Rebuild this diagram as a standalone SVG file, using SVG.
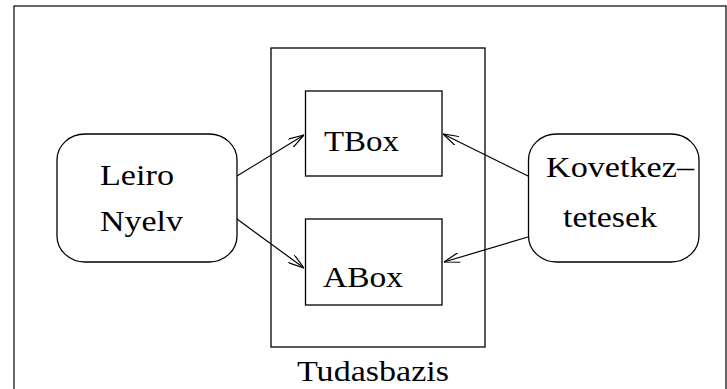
<svg xmlns="http://www.w3.org/2000/svg" width="727" height="389" viewBox="0 0 727 389">
<style>
.b{fill:none;stroke:#000;stroke-width:1.3}
.t{font-family:"Liberation Serif","Times New Roman",serif;font-size:29px;fill:#000}
.c{fill:none;stroke:#000;stroke-width:1.2}
</style>
<defs>
<marker id="ah" viewBox="0 0 16 10" refX="16" refY="5" markerWidth="16" markerHeight="10" markerUnits="userSpaceOnUse" orient="auto">
<path d="M0,0 L16,5 L0,10" fill="none" stroke="#000" stroke-width="1.2"/>
</marker>
</defs>
<rect x="0" y="0" width="727" height="389" fill="#fff"/>
<rect x="14" y="6" width="712" height="400" fill="none" stroke="#000" stroke-width="1.2"/>
<g id="tudasbazis">
<rect class="b" x="271" y="48" width="214" height="299"/>
<text class="t" x="297" y="381" textLength="152" lengthAdjust="spacingAndGlyphs">Tudasbazis</text>
</g>
<g id="tbox">
<rect class="b" x="305.5" y="91" width="136.5" height="85"/>
<text class="t" x="324" y="151" textLength="75" lengthAdjust="spacingAndGlyphs">TBox</text>
</g>
<g id="abox">
<rect class="b" x="305.5" y="219" width="136.5" height="86"/>
<text class="t" x="323" y="287" textLength="80" lengthAdjust="spacingAndGlyphs">ABox</text>
</g>
<g id="leiro">
<rect class="b" x="57" y="134" width="180" height="128" rx="28" ry="26"/>
<text class="t" x="100" y="185" textLength="74" lengthAdjust="spacingAndGlyphs">Leiro</text>
<text class="t" x="100" y="231" textLength="83" lengthAdjust="spacingAndGlyphs">Nyelv</text>
</g>
<g id="kovetkez">
<rect class="b" x="528.5" y="134" width="170.5" height="128" rx="28" ry="26"/>
<text class="t" x="546" y="177" textLength="148" lengthAdjust="spacingAndGlyphs">Kovetkez–</text>
<text class="t" x="563" y="227" textLength="94" lengthAdjust="spacingAndGlyphs">tetesek</text>
</g>
<g id="connectors">
<line class="c" x1="237" y1="176" x2="304" y2="135" marker-end="url(#ah)"/>
<line class="c" x1="237" y1="219" x2="304" y2="268" marker-end="url(#ah)"/>
<line class="c" x1="528" y1="176" x2="443" y2="134" marker-end="url(#ah)"/>
<line class="c" x1="528" y1="237" x2="444" y2="262" marker-end="url(#ah)"/>
</g>
</svg>
